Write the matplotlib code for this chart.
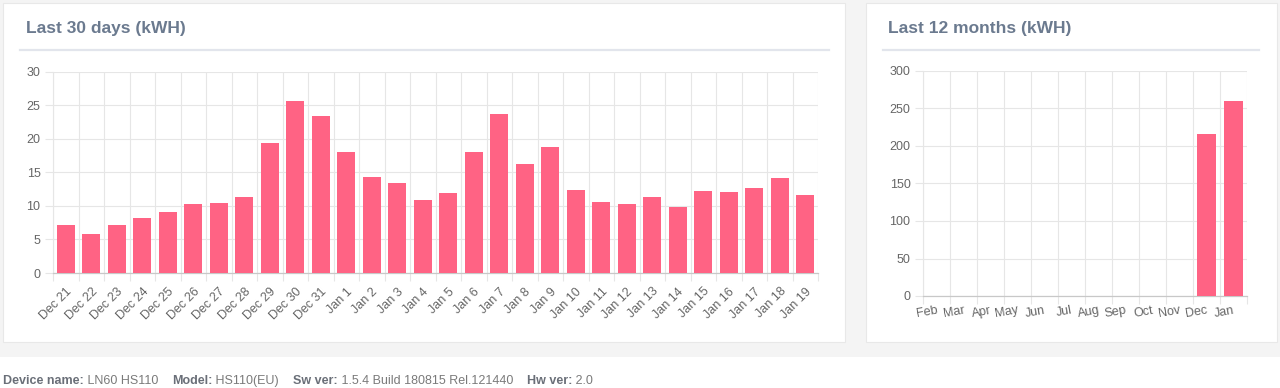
import matplotlib
matplotlib.use("Agg")
import matplotlib.pyplot as plt
from matplotlib.patches import Rectangle
from matplotlib.lines import Line2D

plt.rcParams['font.family'] = ['Liberation Sans', 'DejaVu Sans']

# ---- data ----
days = ["Dec 21", "Dec 22", "Dec 23", "Dec 24", "Dec 25", "Dec 26", "Dec 27", "Dec 28",
        "Dec 29", "Dec 30", "Dec 31", "Jan 1", "Jan 2", "Jan 3", "Jan 4", "Jan 5",
        "Jan 6", "Jan 7", "Jan 8", "Jan 9", "Jan 10", "Jan 11", "Jan 12", "Jan 13",
        "Jan 14", "Jan 15", "Jan 16", "Jan 17", "Jan 18", "Jan 19"]
day_kwh = [7.1, 5.75, 7.2, 8.13, 9.02, 10.2, 10.46, 11.3, 19.3, 25.68, 23.35, 17.95,
           14.23, 13.39, 10.86, 11.85, 18.05, 23.6, 16.26, 18.74, 12.4, 10.51, 10.21,
           11.35, 9.87, 12.15, 12.1, 12.64, 14.13, 11.65]
months = ["Feb", "Mar", "Apr", "May", "Jun", "Jul", "Aug", "Sep", "Oct", "Nov", "Dec", "Jan"]
month_kwh = [0, 0, 0, 0, 0, 0, 0, 0, 0, 0, 216, 260]
day_yticks = [0, 5, 10, 15, 20, 25, 30]
month_yticks = [0, 50, 100, 150, 200, 250, 300]

W, H = 1280, 388
BAR = "#ff6384"
GRID = "#e6e6e6"
AXIS = "#c8c8c8"
TICKC = "#666666"
TITLEC = "#6b7a8f"
BG = "#f4f4f4"

fig = plt.figure(figsize=(W / 100, H / 100), dpi=100)
fig.patch.set_facecolor(BG)


def px_rect(x0, y0, x1, y1, fc, ec="none", lw=0):
    r = Rectangle((x0 / W, 1 - y1 / H), (x1 - x0) / W, (y1 - y0) / H,
                  transform=fig.transFigure, facecolor=fc, edgecolor=ec, linewidth=lw, zorder=-5)
    fig.patches.append(r)


def px_line(x0, x1, y, color, lw):
    fig.add_artist(Line2D([x0 / W, x1 / W], [1 - y / H, 1 - y / H], transform=fig.transFigure,
                          color=color, linewidth=lw, zorder=-4))


# panels
px_rect(3, 3, 845, 342, "white", "#e8e8e8", 0.8)
px_rect(866, 3, 1277, 342, "white", "#e8e8e8", 0.8)
px_rect(0, 357, W, H, "white")

# titles
fig.text(26 / W, 1 - 28 / H, "Last 30 days (kWH)", fontsize=12.5, fontweight="bold",
         color=TITLEC, va="center", ha="left")
fig.text(888 / W, 1 - 28 / H, "Last 12 months (kWH)", fontsize=12.5, fontweight="bold",
         color=TITLEC, va="center", ha="left")
px_line(20, 829, 49.5, "#e2e5ec", 1.6)
px_line(883, 1259, 49.5, "#e2e5ec", 1.6)


def make_axes(x0, x1, ytop, ybot, cats, vals, yticks, rot, pad):
    ax = fig.add_axes([x0 / W, 1 - ybot / H, (x1 - x0) / W, (ybot - ytop) / H])
    ax.set_facecolor("none")
    ax.set_zorder(2)
    n = len(cats)
    xs = list(range(n))
    ax.bar(xs, vals, width=0.72, color=BAR, zorder=3)
    ax.set_xlim(-0.5, n - 0.5)
    ax.set_ylim(yticks[0], yticks[-1])
    ax.set_xticks(xs)
    ax.set_xticklabels(cats, rotation=rot, ha="right", rotation_mode="anchor",
                       fontsize=9, color=TICKC)
    ax.set_xticks([i - 0.5 for i in range(n + 1)], minor=True)
    ax.tick_params(axis="x", which="major", length=0, pad=pad)
    ax.tick_params(axis="x", which="minor", length=6, color=GRID, width=0.8)
    ax.set_yticks(yticks)
    ax.set_yticklabels([str(v) for v in yticks], fontsize=9, color=TICKC)
    ax.tick_params(axis="y", length=6, color=GRID, width=0.8, pad=3)
    ax.grid(True, which="minor", axis="x", color=GRID, linewidth=0.8, zorder=0)
    ax.grid(True, which="major", axis="y", color=GRID, linewidth=0.8, zorder=0)
    ax.grid(False, which="major", axis="x")
    for s in ["top", "right"]:
        ax.spines[s].set_visible(False)
    ax.spines["left"].set_color(GRID)
    ax.spines["bottom"].set_color(AXIS)
    ax.spines["left"].set_linewidth(0.8)
    ax.spines["bottom"].set_linewidth(0.9)
    ax.set_axisbelow(True)
    return ax


make_axes(53, 818, 71.5, 273, days, day_kwh, day_yticks, 45, 9)
make_axes(923, 1247, 71, 296, months, month_kwh, month_yticks, 10, 6)

# footer
pieces = [("Device name:", True), (" LN60 HS110", False), ("Model:", True), (" HS110(EU)", False),
          ("Sw ver:", True), (" 1.5.4 Build 180815 Rel.121440", False), ("Hw ver:", True), (" 2.0", False)]
fig.canvas.draw()
renderer = fig.canvas.get_renderer()
x = 3
for i, (txt, bold) in enumerate(pieces):
    t = fig.text(x / W, 1 - 381 / H, txt, fontsize=9, fontweight="bold" if bold else "normal",
                 color="#6a6f78" if bold else "#7a7a7a", va="center", ha="left")
    bb = t.get_window_extent(renderer)
    x += bb.width
    if not bold:
        x += 14

fig.savefig("out.png", dpi=100, facecolor=fig.get_facecolor())
